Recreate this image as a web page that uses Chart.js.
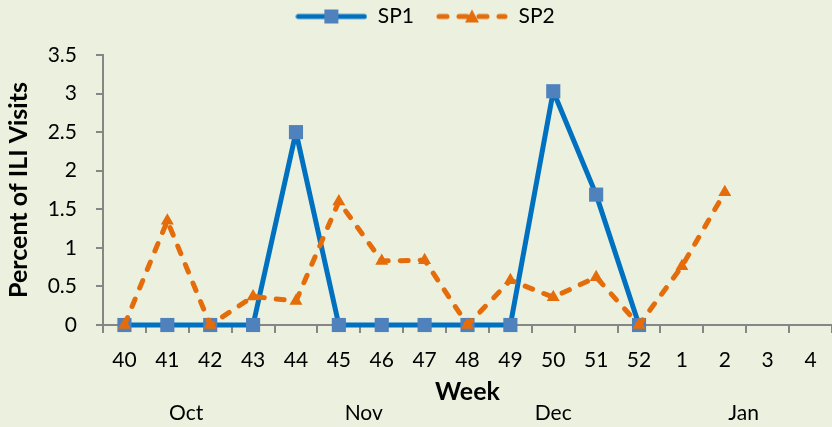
<!DOCTYPE html>
<html><head><meta charset="utf-8">
<script src="https://cdn.jsdelivr.net/npm/chart.js@4"></script>
<style>html,body{margin:0;padding:0;background:#EBF1DE;}#wrap{width:832px;height:427px;}</style>
</head><body><div id="wrap"><canvas id="c" width="832" height="427"></canvas></div>
<script>
const weeks = ['40','41','42','43','44','45','46','47','48','49','50','51','52','1','2','3','4'];
const sp1 = [0,0,0,0,2.5,0,0,0,0,0,3.03,1.69,0,null,null,null,null];
const sp2 = [0,1.35,0,0.37,0.31,1.6,0.83,0.84,0,0.58,0.36,0.62,0,0.76,1.72,null,null];
const monthNames = ['Oct','Nov','Dec','Jan'];
const monthPos = [1.44,5.58,10.0,14.44];
const yTicks = [0,0.5,1,1.5,2,2.5,3,3.5];

const FONT = 'Lato, "Liberation Sans", sans-serif';
const BLUE = '#0070C0', BLUE_M = '#4F81BD', ORANGE = '#E46C0A';

function legendIcon(color, markerColor, dash, marker){
  const cv = document.createElement('canvas');
  cv.width = 72; cv.height = 16;
  const g = cv.getContext('2d');
  g.strokeStyle = color; g.lineWidth = 5; g.lineCap = 'round';
  g.setLineDash(dash);
  g.beginPath(); g.moveTo(3,8); g.lineTo(69,8); g.stroke();
  g.setLineDash([]);
  g.fillStyle = markerColor;
  if (marker==='rect'){ g.fillRect(29,1,14,14); }
  else { g.beginPath(); g.moveTo(36,1); g.lineTo(43,14); g.lineTo(29,14); g.closePath(); g.fill(); }
  return cv;
}
const icons = [legendIcon(BLUE, BLUE_M, [], 'rect'), legendIcon(ORANGE, ORANGE, [8,12], 'tri')];

const bg = { id:'bg', beforeDraw(ch){ const c=ch.ctx; c.save(); c.fillStyle='#EBF1DE'; c.fillRect(0,0,ch.width,ch.height); c.restore(); } };
const legendHeight = { id:'legendHeight', afterInit(ch){ const l = ch.legend; if(!l) return; const f = l.fit; l.fit = function(){ f.call(this); this.height = 71; if (this.lineWidths && this.lineWidths.length) this.lineWidths[0] -= 18; }; } };

new Chart(document.getElementById('c'), {
  type:'line',
  data:{ labels:weeks, datasets:[
    { label:'SP1', data:sp1, order:1, borderColor:BLUE, backgroundColor:BLUE_M, borderWidth:5, borderJoinStyle:'round',
      pointStyle:'rect', pointRadius:10, pointBackgroundColor:BLUE_M, pointBorderWidth:0, pointBorderColor:BLUE_M, clip:false, xAxisID:'x' },
    { label:'SP2', data:sp2, order:0, borderColor:ORANGE, backgroundColor:ORANGE, borderWidth:5, borderDash:[8,12], borderCapStyle:'round', borderJoinStyle:'round',
      pointStyle:'triangle', pointRadius:7.5, pointBackgroundColor:ORANGE, pointBorderWidth:0, pointBorderColor:ORANGE, clip:false, xAxisID:'x' }
  ]},
  options:{
    responsive:false, animation:false, devicePixelRatio:1,
    layout:{ autoPadding:false, padding:{ top:-16, right:0, left:0, bottom:0 } },
    plugins:{
      legend:{ position:'top', align:'center',
        labels:{ usePointStyle:true, pointStyleWidth:72, font:{ family:FONT, size:21 }, color:'#000', padding:22,
          generateLabels(ch){ return ch.data.datasets.map((d,i)=>({ text:d.label, pointStyle:icons[i], fontColor:'#000', datasetIndex:i, strokeStyle:'transparent', fillStyle:'transparent', lineWidth:0 })); } } },
      tooltip:{ enabled:false }
    },
    scales:{
      x:{ type:'category', position:'bottom', offset:true,
        grid:{ display:true, drawOnChartArea:false, offset:true, tickLength:8, color:'#868686', lineWidth:2 },
        border:{ color:'#868686', width:2 },
        ticks:{ font:{ family:FONT, size:21 }, color:'#000', padding:15, maxRotation:0, autoSkip:false },
        title:{ display:true, text:'Week', font:{ family:FONT, size:25, weight:'bold' }, color:'#000', padding:{top:0,bottom:-7} },
        afterFit(s){ s.height = 75; } },
      x2:{ type:'linear', position:'bottom', min:-0.5, max:16.5,
        grid:{ display:false, drawTicks:false }, border:{ display:false },
        afterBuildTicks(s){ s.ticks = monthPos.map(v=>({value:v})); },
        ticks:{ font:{ family:FONT, size:21 }, color:'#000', padding:1, maxRotation:0, autoSkip:false,
          callback(v){ const i = monthPos.indexOf(v); return i>=0 ? monthNames[i] : ''; } },
        afterFit(s){ s.height = 27; } },
      y:{ min:0, max:3.5,
        grid:{ display:true, drawOnChartArea:false, tickLength:7, color:'#868686', lineWidth:2 },
        border:{ color:'#868686', width:2 },
        afterBuildTicks(s){ s.ticks = yTicks.map(v=>({value:v})); },
        ticks:{ font:{ family:FONT, size:21 }, color:'#000', padding:19, callback(v){ return String(v); } },
        title:{ display:true, text:'Percent of ILI Visits', font:{ family:FONT, size:25, weight:'bold' }, color:'#000', padding:{top:4,bottom:0} },
        afterFit(s){ s.width = 103; } }
    }
  },
  plugins:[bg, legendHeight]
});
</script>
</body></html>
